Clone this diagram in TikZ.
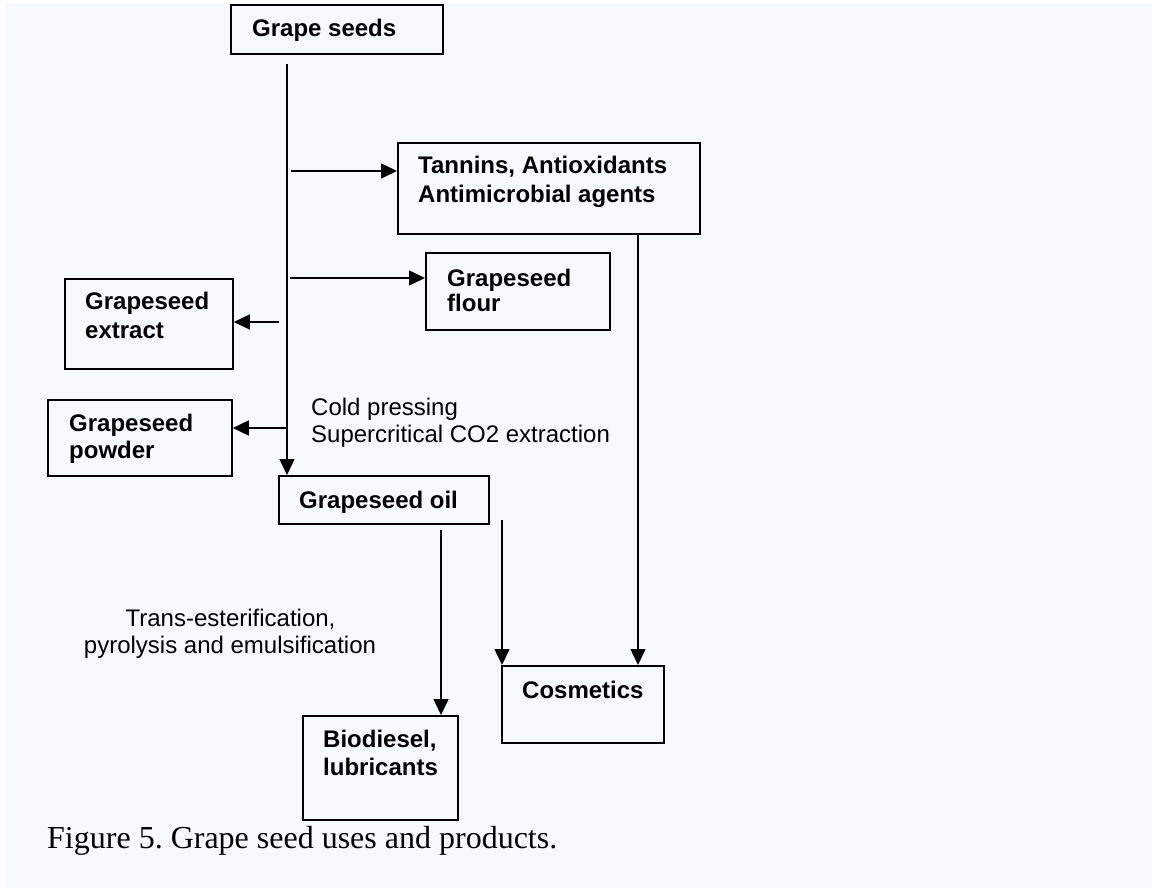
\documentclass[tikz,border=0pt]{standalone}
\usepackage{fontspec}
\setmainfont{Liberation Sans}
\newfontfamily\capfont{Liberation Serif}
\usetikzlibrary{arrows.meta}
\definecolor{bgblue}{RGB}{246,250,254}
\frenchspacing
\begin{document}
\begin{tikzpicture}[x=1pt,y=-1pt,
  box/.style={draw=black, line width=1.8pt, inner sep=0pt, anchor=north west},
  bt/.style={anchor=base west, inner sep=0pt, font=\bfseries\fontsize{24}{29}\selectfont},
  rt/.style={inner sep=0pt, font=\fontsize{24}{29}\selectfont},
  arr/.style={line width=1.5pt, -{Triangle[length=16pt,width=15pt]}},
  ln/.style={line width=1.5pt}]
\useasboundingbox (0,0) rectangle (1156,890);
\fill[white] (0,0) rectangle (1156,890);
\fill[bgblue] (5,3) rectangle (1152,888);

% boxes
\node[box, minimum width=212pt, minimum height=49pt] (gs) at (230,4) {};
\node[box, minimum width=302pt, minimum height=91pt] (tan) at (397,142) {};
\node[box, minimum width=184pt, minimum height=77pt] (flo) at (425,252) {};
\node[box, minimum width=168pt, minimum height=90pt] (ext) at (64,278) {};
\node[box, minimum width=184pt, minimum height=76pt] (pow) at (47,399) {};
\node[box, minimum width=210pt, minimum height=48pt] (oil) at (278,475) {};
\node[box, minimum width=162pt, minimum height=77pt] (cos) at (501,665) {};
\node[box, minimum width=155pt, minimum height=104pt] (bio) at (302,715) {};

% box texts
\node[bt] (tgs) at (252,37) {Grape seeds};
\node[bt] (ttan1) at (418,174) {Tannins, Antioxidants};
\node[bt] (ttan2) at (418,203) {Antimicrobial agents};
\node[bt] (tflo1) at (447,287) {Grapeseed};
\node[bt] (tflo2) at (447,312) {flour};
\node[bt] (text1) at (85,310) {Grapeseed};
\node[bt] (text2) at (85,338) {extract};
\node[bt] (tpow1) at (69,431) {Grapeseed};
\node[bt] (tpow2) at (69,458) {powder};
\node[bt] (toil) at (299,508) {Grapeseed oil};
\node[bt] (tcos) at (522,698) {Cosmetics};
\node[bt] (tbio1) at (323,747) {Biodiesel,};
\node[bt] (tbio2) at (323,775) {lubricants};

% process labels
\node[rt, anchor=base west] (cp1) at (311,415) {Cold pressing};
\node[rt, anchor=base west] (cp2) at (311,442) {Supercritical CO2 extraction};
\node[rt, anchor=base] (tr1) at (230.5,626) {Trans-esterification,};
\node[rt, anchor=base] (tr2) at (230,653) {pyrolysis and emulsification};

% caption
\node[anchor=base west, inner sep=0pt, font=\capfont\fontsize{32}{38}\selectfont] (cap) at (47,848) {Figure 5. Grape seed uses and products.};

% connectors
\coordinate (m0) at (287,64);
\draw[arr] (m0) -- (m0 |- oil.north);
\coordinate (b1) at (291,171);
\draw[arr] (b1) -- (b1 -| tan.west);
\coordinate (b2) at (290,278);
\draw[arr] (b2) -- (b2 -| flo.west);
\coordinate (b3) at (279,322);
\draw[arr] (b3) -- (b3 -| ext.east);
\coordinate (b4) at (287,428);
\draw[arr] (b4) -- (b4 -| pow.east);
\coordinate (o1) at (441,530);
\draw[arr] (o1) -- (o1 |- bio.north);
\coordinate (o2) at (502,520);
\draw[arr] (o2) -- (o2 |- cos.north);
\coordinate (t1) at (638,233);
\draw[arr] (t1) -- (t1 |- cos.north);
\end{tikzpicture}
\end{document}
